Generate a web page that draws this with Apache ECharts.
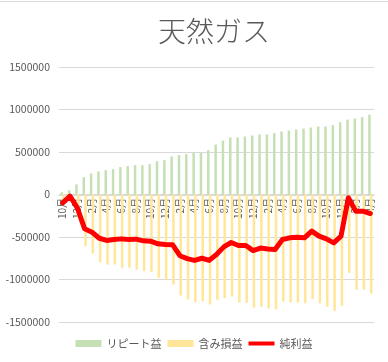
<!DOCTYPE html>
<html><head><meta charset="utf-8">
<script src="https://cdn.jsdelivr.net/npm/echarts@6/dist/echarts.min.js"></script>
<style>html,body{margin:0;padding:0;background:#fff}#c{width:388px;height:362px}</style>
</head><body><div id="c"></div>
<script>
const categories = ["10月","11月","12月","1月","2月","3月","4月","5月","6月","7月","8月","9月",
"10月","11月","12月","1月","2月","3月","4月","5月","6月","7月","8月","9月",
"10月","11月","12月","1月","2月","3月","4月","5月","6月","7月","8月","9月",
"10月","11月","12月","1月","2月","3月","4月"];
const repeatProfit = [27000,51000,118000,204000,247000,271000,286000,298000,322000,333000,
345000,345000,357000,392000,404000,447000,463000,475000,494000,490000,
522000,588000,635000,671000,671000,682000,694000,706000,706000,722000,
741000,753000,765000,776000,788000,800000,800000,816000,851000,882000,
894000,910000,941000];
const unrealized = [-125000,-71000,-275000,-608000,-694000,-796000,-824000,-824000,-862000,-862000,
-882000,-902000,-914000,-980000,-1000000,-1059000,-1188000,-1235000,-1267000,-1255000,
-1294000,-1240000,-1220000,-1200000,-1270000,-1275000,-1330000,-1320000,-1340000,-1350000,
-1260000,-1270000,-1270000,-1280000,-1230000,-1280000,-1320000,-1370000,-1310000,-922000,
-1118000,-1118000,-1165000];
const netProfit = [-98000,-20000,-157000,-404000,-443000,-515000,-540000,-529000,-522000,-529000,
-525000,-545000,-549000,-580000,-588000,-590000,-720000,-755000,-775000,-750000,
-775000,-706000,-616000,-565000,-600000,-600000,-660000,-630000,-640000,-647000,
-529000,-510000,-502000,-510000,-431000,-490000,-522000,-569000,-490000,-39000,
-196000,-196000,-224000];
const yTicks = {min:-1500000, max:1500000, interval:500000};
const names = ["リピート益","含み損益","純利益"];

const chart = echarts.init(document.getElementById('c'), null, {renderer:'canvas'});
const FONT = "'Noto Sans CJK JP','Noto Sans',sans-serif";
chart.setOption({
  animation:false,
  textStyle:{fontFamily:FONT},
  title:{text:"天然ガス", left:209, textAlign:'center', top:12,
    textStyle:{fontSize:28, fontWeight:300, color:'#595959', fontFamily:FONT}},
  graphic:[{type:'line', shape:{x1:0,y1:1.5,x2:388,y2:1.5}, style:{stroke:'#d9d9d9', lineWidth:1}}],
  grid:{left:59, right:14, top:67, bottom:40, containLabel:false},
  legend:{bottom:8, left:'center', itemWidth:26, itemHeight:7, itemGap:6, symbolKeepAspect:true,
    textStyle:{fontSize:11, color:'#595959', fontFamily:FONT},
    data:[{name:names[0], icon:'rect'},{name:names[1], icon:'rect'},
          {name:names[2], icon:'path://M0,0L26,0L26,4L0,4Z'}]},
  xAxis:{type:'category', data:categories, boundaryGap:true, position:'bottom', offset:-127,
    axisLine:{show:true, onZero:false, lineStyle:{color:'#d9d9d9'}},
    axisTick:{show:false},
    axisLabel:{interval:1, rotate:90, fontSize:10, color:'#595959', margin:3, fontFamily:FONT}},
  yAxis:{type:'value', min:yTicks.min, max:yTicks.max, interval:yTicks.interval,
    axisLine:{show:false}, axisTick:{show:false},
    splitLine:{lineStyle:{color:'#d9d9d9'}},
    axisLabel:{fontSize:10.5, color:'#595959', margin:9, formatter:v=>String(v), fontFamily:FONT}},
  series:[
    {name:names[0], type:'bar', data:repeatProfit, barWidth:2.5, barGap:'-30%',
      itemStyle:{color:'#C5E0B4'}},
    {name:names[1], type:'bar', data:unrealized, barWidth:2.5, barGap:'-30%',
      itemStyle:{color:'#FFE699'}},
    {name:names[2], type:'line', data:netProfit, symbol:'none', smooth:false,
      lineStyle:{color:'#FF0000', width:5, cap:'round', join:'round'},
      itemStyle:{color:'#FF0000'}, z:5}
  ]
});
</script></body></html>
